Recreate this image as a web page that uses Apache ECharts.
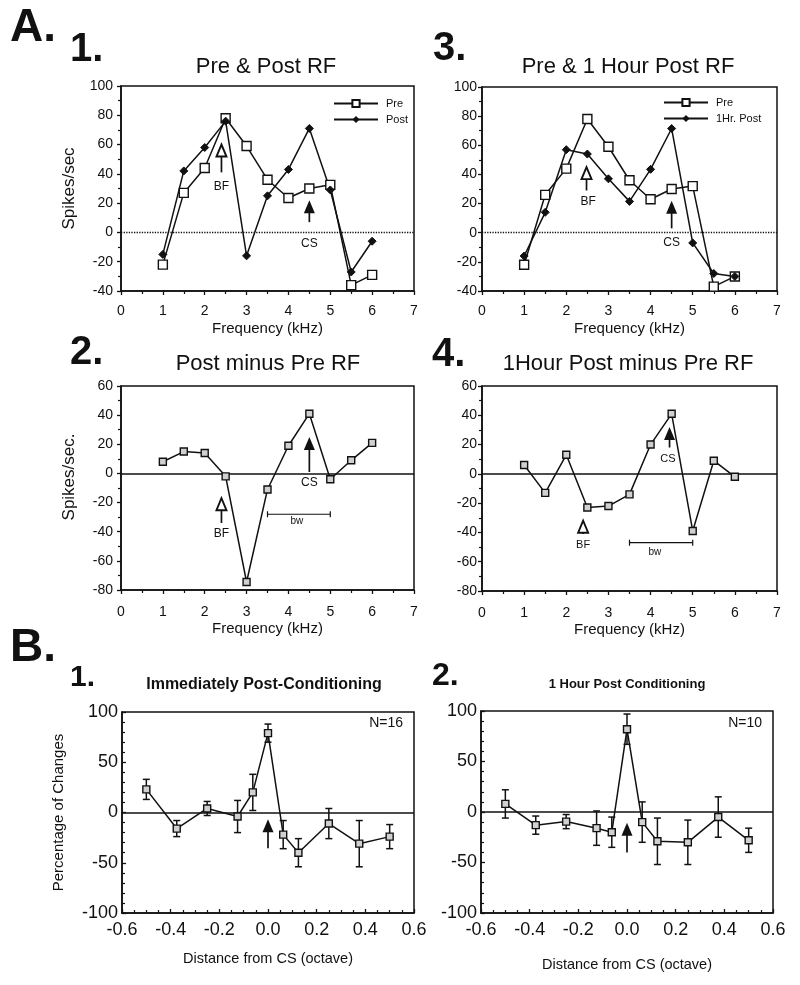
<!DOCTYPE html>
<html><head><meta charset="utf-8">
<script src="https://cdn.jsdelivr.net/npm/echarts@6/dist/echarts.min.js"></script>
<style>html,body{margin:0;padding:0;background:#fff}#c{width:800px;height:985px}</style>
</head><body><div id="c"></div>
<script>
// ---------- data ----------
const freq = [1, 1.5, 2, 2.5, 3, 3.5, 4, 4.5, 5, 5.5, 6];
const preA1 = [-22, 27, 44, 78, 59, 36, 23.5, 30, 32.5, -36, -29];
const postA1 = [-15, 42, 58, 76, -16, 25, 43, 71, 29, -27, -6];
const preA3 = [-22, 26, 44, 78, 59, 36, 23, 30, 32, -37, -30];
const post1hA3 = [-16, 14, 57, 54, 37, 21.5, 43.5, 71.5, -7, -28, -30];
const diffA2 = [8, 15, 14, -2, -74.5, -11, 19, 41, -4, 9, 21];
const diffA4 = [6, -13, 13, -23, -22, -14, 20, 41, -39, 9, -2];
const octave = [-0.5, -0.375, -0.25, -0.125, -0.0625, 0, 0.0625, 0.125, 0.25, 0.375, 0.5];
const meanB1 = [23, -16, 4, -4, 20, 79, -22, -40, -11, -31, -24];
const errB1 = [10, 8, 7, 16, 18, 9, 14, 14, 15, 23, 12];
const meanB2 = [8, -13, -9.5, -16, -20, 82, -10, -29, -30, -5, -28];
const errB2 = [14, 9, 7, 17, 15, 15, 20, 23, 22, 20, 12];
const freqTicks = [0, 7, 1];
const octTicks = [-0.6, 0.6, 0.2];
// annotations: arrows [x, yBase, yTip, filled], texts [label, x, y], bandwidth [x0, x1, y]
const arrowsA1 = [[2.4, 41, 60, 0], [4.5, 7, 22, 1]];
const textsA1 = [['BF', 2.4, 31], ['CS', 4.5, -8]];
const arrowsA3 = [[2.48, 29, 45, 0], [4.5, 3, 22, 1]];
const textsA3 = [['BF', 2.52, 21], ['CS', 4.5, -7]];
const arrowsA2 = [[2.4, -34, -17, 0], [4.5, 1, 25, 1]];
const textsA2 = [['BF', 2.4, -41.6], ['CS', 4.5, -6.6]];
const bwA2 = [[3.5, 5.0, -28]];
const bwTextA2 = [['bw', 4.2, -33]];
const arrowsA4 = [[2.4, -41, -32, 0], [4.45, 18, 32, 1]];
const textsA4 = [['BF', 2.4, -48.4], ['CS', 4.41, 10]];
const bwA4 = [[3.5, 5.0, -47]];
const bwTextA4 = [['bw', 4.1, -53.7]];
const arrowsB1 = [[0, -35.6, -6.8, 1]];
const arrowsB2 = [[0, -40, -10.6, 1]];

// ---------- helpers ----------
const SANS = '"Liberation Sans", Arial, Helvetica, sans-serif';
const INK = '#111';
const pairs = (xs, ys) => xs.map((x, i) => [x, ys[i]]);

function xAxisA(grid, gap, labelMargin) {
  return {
    type: 'value', gridIndex: grid, min: freqTicks[0], max: freqTicks[1], interval: freqTicks[2],
    name: 'Frequency (kHz)', nameLocation: 'middle', nameGap: gap,
    nameTextStyle: { fontFamily: SANS, fontSize: 15, color: INK },
    axisLine: { onZero: false, lineStyle: { color: INK, width: 1.6 } },
    axisTick: { length: 4, lineStyle: { color: INK, width: 1.3 } },
    minorTick: { show: true, splitNumber: 2, length: 3, lineStyle: { color: INK, width: 1.2 } },
    axisLabel: { fontFamily: SANS, fontSize: 14, color: INK, margin: labelMargin },
    splitLine: { show: false }
  };
}
function yAxisA(grid, min, max, name, margin, namePad) {
  return {
    type: 'value', gridIndex: grid, min, max, interval: 20,
    name: name || '', nameLocation: 'middle', nameGap: 43, nameRotate: 90,
    nameTextStyle: { fontFamily: SANS, fontSize: 17, color: INK, padding: namePad || 0 },
    axisLine: { onZero: false, lineStyle: { color: INK, width: 1.6 } },
    axisTick: { length: 4, lineStyle: { color: INK, width: 1.3 } },
    minorTick: { show: true, splitNumber: 2, length: 3, lineStyle: { color: INK, width: 1.2 } },
    axisLabel: { fontFamily: SANS, fontSize: 14, color: INK, margin },
    splitLine: { show: false }
  };
}
function octFmt(v) { return Math.abs(v) < 1e-9 ? '0.0' : v.toFixed(1); }
function xAxisB(grid, gap) {
  return {
    type: 'value', gridIndex: grid, min: octTicks[0], max: octTicks[1], interval: octTicks[2],
    name: 'Distance from CS (octave)', nameLocation: 'middle', nameGap: gap,
    nameTextStyle: { fontFamily: SANS, fontSize: 14.5, color: INK },
    axisLine: { onZero: false, lineStyle: { color: INK, width: 1.6 } },
    axisTick: { inside: true, length: 4, lineStyle: { color: INK, width: 1.3 } },
    minorTick: { show: true, splitNumber: 4, length: 3, lineStyle: { color: INK, width: 1.2 } },
    axisLabel: { fontFamily: SANS, fontSize: 18, color: INK, margin: 8, formatter: octFmt },
    splitLine: { show: false }
  };
}
function yAxisB(grid, name) {
  return {
    type: 'value', gridIndex: grid, min: -100, max: 100, interval: 50,
    name: name || '', nameLocation: 'middle', nameGap: 56, nameRotate: 90,
    nameTextStyle: { fontFamily: SANS, fontSize: 15, color: INK },
    axisLine: { onZero: false, lineStyle: { color: INK, width: 1.6 } },
    axisTick: { inside: true, length: 4, lineStyle: { color: INK, width: 1.3 } },
    minorTick: { show: true, splitNumber: 5, length: 3, lineStyle: { color: INK, width: 1.2 } },
    axisLabel: { fontFamily: SANS, fontSize: 18, color: INK, margin: 4 },
    splitLine: { show: false }
  };
}
function zeroLine(type) {
  return { silent: true, symbol: ['none', 'none'], label: { show: false },
    lineStyle: { color: INK, type, width: type === 'solid' ? 1.6 : 1.3 }, data: [{ yAxis: 0 }] };
}
function lineSeries(name, idx, data, kind, zeroType) {
  const s = {
    type: 'line', name, xAxisIndex: idx, yAxisIndex: idx, data,
    lineStyle: { color: INK, width: 1.5 }, z: 5,
    symbol: kind === 'dot' ? 'diamond' : 'rect',
    symbolSize: kind === 'dot' ? 8 : (kind === 'small' ? 7 : 9),
    itemStyle: kind === 'dot' ? { color: INK, borderColor: INK }
      : { color: kind === 'small' ? '#d0d0d0' : '#fff', borderColor: INK, borderWidth: 1.4 },
    emphasis: { disabled: true }
  };
  if (zeroType) s.markLine = zeroLine(zeroType);
  return s;
}
function arrowSeries(idx, data) {
  return {
    type: 'custom', xAxisIndex: idx, yAxisIndex: idx, data, z: 6, silent: true,
    encode: { x: 0, y: [1, 2] },
    renderItem(params, api) {
      const x = api.value(0);
      const p0 = api.coord([x, api.value(1)]);
      const p1 = api.coord([x, api.value(2)]);
      const filled = api.value(3) === 1;
      const hw = filled ? 5.5 : 5, hh = filled ? 13 : 12;
      const head = [[p1[0], p1[1]], [p1[0] - hw, p1[1] + hh], [p1[0] + hw, p1[1] + hh]];
      return { type: 'group', children: [
        { type: 'line', shape: { x1: p0[0], y1: p0[1], x2: p1[0], y2: p1[1] + (filled ? 8 : hh) },
          style: { stroke: INK, lineWidth: 1.7 } },
        { type: 'polygon', shape: { points: head },
          style: filled ? { fill: INK } : { fill: '#fff', stroke: INK, lineWidth: 1.9 } }
      ]};
    }
  };
}
function textSeries(idx, items, size) {
  return {
    type: 'custom', xAxisIndex: idx, yAxisIndex: idx, z: 6, silent: true,
    data: items.map(t => [t[1], t[2]]), encode: { x: 0, y: 1 },
    renderItem(params, api) {
      const p = api.coord([api.value(0), api.value(1)]);
      return { type: 'text', x: p[0], y: p[1], style: {
        text: items[params.dataIndex][0], fill: INK,
        font: `${size}px ${SANS}`, align: 'center', verticalAlign: 'middle',
        textAlign: 'center', textVerticalAlign: 'middle' } };
    }
  };
}
function bwSeries(idx, data) {
  return {
    type: 'custom', xAxisIndex: idx, yAxisIndex: idx, data, z: 6, silent: true,
    encode: { x: [0, 1], y: 2 },
    renderItem(params, api) {
      const a = api.coord([api.value(0), api.value(2)]);
      const b = api.coord([api.value(1), api.value(2)]);
      const st = { stroke: INK, lineWidth: 1.2 };
      return { type: 'group', children: [
        { type: 'line', shape: { x1: a[0], y1: a[1], x2: b[0], y2: b[1] }, style: st },
        { type: 'line', shape: { x1: a[0], y1: a[1] - 3, x2: a[0], y2: a[1] + 3 }, style: st },
        { type: 'line', shape: { x1: b[0], y1: b[1] - 3, x2: b[0], y2: b[1] + 3 }, style: st }
      ]};
    }
  };
}
function errSeries(idx, xs, means, errs) {
  return {
    type: 'custom', xAxisIndex: idx, yAxisIndex: idx, z: 4, silent: true,
    data: xs.map((x, i) => [x, means[i] - errs[i], means[i] + errs[i]]),
    encode: { x: 0, y: [1, 2] },
    renderItem(params, api) {
      const x = api.value(0);
      const lo = api.coord([x, api.value(1)]);
      const hi = api.coord([x, api.value(2)]);
      const w = 3.5, st = { stroke: INK, lineWidth: 1.5 };
      return { type: 'group', children: [
        { type: 'line', shape: { x1: lo[0], y1: lo[1], x2: hi[0], y2: hi[1] }, style: st },
        { type: 'line', shape: { x1: hi[0] - w, y1: hi[1], x2: hi[0] + w, y2: hi[1] }, style: st },
        { type: 'line', shape: { x1: lo[0] - w, y1: lo[1], x2: lo[0] + w, y2: lo[1] }, style: st }
      ]};
    }
  };
}
function gText(text, x, y, size, weight, align) {
  return { type: 'text', x, y, silent: true, style: {
    text, fill: INK, font: `${weight} ${size}px ${SANS}`,
    align, verticalAlign: 'middle', textAlign: align, textVerticalAlign: 'middle' } };
}

const gridBase = { show: true, borderColor: INK, borderWidth: 1.5, backgroundColor: 'transparent', containLabel: false };
const option = {
  animation: false,
  backgroundColor: '#fff',
  grid: [
    Object.assign({ left: 121, top: 86, width: 293, height: 205 }, gridBase),  // A1
    Object.assign({ left: 482, top: 87, width: 295, height: 204 }, gridBase),  // A3
    Object.assign({ left: 121, top: 386, width: 293, height: 204 }, gridBase), // A2
    Object.assign({ left: 482, top: 386, width: 295, height: 205 }, gridBase), // A4
    Object.assign({ left: 122, top: 712, width: 292, height: 201 }, gridBase), // B1
    Object.assign({ left: 481, top: 711, width: 292, height: 202 }, gridBase)  // B2
  ],
  xAxis: [
    xAxisA(0, 30, 13), xAxisA(1, 30, 13), xAxisA(2, 31, 15), xAxisA(3, 31, 15),
    xAxisB(4, 38), xAxisB(5, 44)
  ],
  yAxis: [
    yAxisA(0, -40, 100, 'Spikes/sec', 8), yAxisA(1, -40, 100, '', 5),
    yAxisA(2, -80, 60, 'Spikes/sec.', 8, [0, 0, 0, 22]), yAxisA(3, -80, 60, '', 5),
    yAxisB(4, 'Percentage of Changes'), yAxisB(5, '')
  ],
  legend: [
    { left: 328, top: 93, orient: 'vertical', itemWidth: 44, itemHeight: 9, itemGap: 5,
      data: ['Pre', 'Post'], selectedMode: false,
      textStyle: { fontFamily: SANS, fontSize: 11, color: INK, padding: [0, 0, 0, 3] } },
    { left: 658, top: 92, orient: 'vertical', itemWidth: 44, itemHeight: 9, itemGap: 5,
      data: ['Pre', '1Hr. Post'], selectedMode: false,
      textStyle: { fontFamily: SANS, fontSize: 11, color: INK, padding: [0, 0, 0, 3] } }
  ],
  graphic: [
    gText('A.', 10, 28, 46, 'bold', 'left'),
    gText('1.', 70, 50, 40, 'bold', 'left'),
    gText('Pre & Post RF', 266, 67, 22, 'normal', 'center'),
    gText('3.', 433, 49, 40, 'bold', 'left'),
    gText('Pre & 1 Hour Post RF', 628, 67, 22, 'normal', 'center'),
    gText('2.', 70, 353, 40, 'bold', 'left'),
    gText('Post minus Pre RF', 268, 364, 22, 'normal', 'center'),
    gText('4.', 432, 355, 40, 'bold', 'left'),
    gText('1Hour Post minus Pre RF', 628, 364, 22, 'normal', 'center'),
    gText('B.', 10, 648, 46, 'bold', 'left'),
    gText('1.', 70, 678, 30, 'bold', 'left'),
    gText('Immediately Post-Conditioning', 264, 685, 16, 'bold', 'center'),
    gText('2.', 432, 676, 32, 'bold', 'left'),
    gText('1 Hour Post Conditioning', 627, 684, 13, 'bold', 'center'),
    gText('N=16', 403, 723, 14, 'normal', 'right'),
    gText('N=10', 762, 723, 14, 'normal', 'right')
  ],
  series: [
    lineSeries('Pre', 0, pairs(freq, preA1), 'square', 'dotted'),
    lineSeries('Post', 0, pairs(freq, postA1), 'dot'),
    arrowSeries(0, arrowsA1), textSeries(0, textsA1, 12),

    lineSeries('Pre', 1, pairs(freq, preA3), 'square', 'dotted'),
    lineSeries('1Hr. Post', 1, pairs(freq, post1hA3), 'dot'),
    arrowSeries(1, arrowsA3), textSeries(1, textsA3, 12),

    lineSeries('Post minus Pre', 2, pairs(freq, diffA2), 'small', 'solid'),
    arrowSeries(2, arrowsA2), textSeries(2, textsA2, 12),
    bwSeries(2, bwA2), textSeries(2, bwTextA2, 10),

    lineSeries('1Hour Post minus Pre', 3, pairs(freq, diffA4), 'small', 'solid'),
    arrowSeries(3, arrowsA4), textSeries(3, textsA4, 11),
    bwSeries(3, bwA4), textSeries(3, bwTextA4, 10),

    errSeries(4, octave, meanB1, errB1),
    lineSeries('Immediately', 4, pairs(octave, meanB1), 'small', 'solid'),
    arrowSeries(4, arrowsB1),

    errSeries(5, octave, meanB2, errB2),
    lineSeries('1 Hour', 5, pairs(octave, meanB2), 'small', 'solid'),
    arrowSeries(5, arrowsB2)
  ]
};
const chart = echarts.init(document.getElementById('c'), null, { renderer: 'canvas' });
chart.setOption(option);
</script>
</body></html>
